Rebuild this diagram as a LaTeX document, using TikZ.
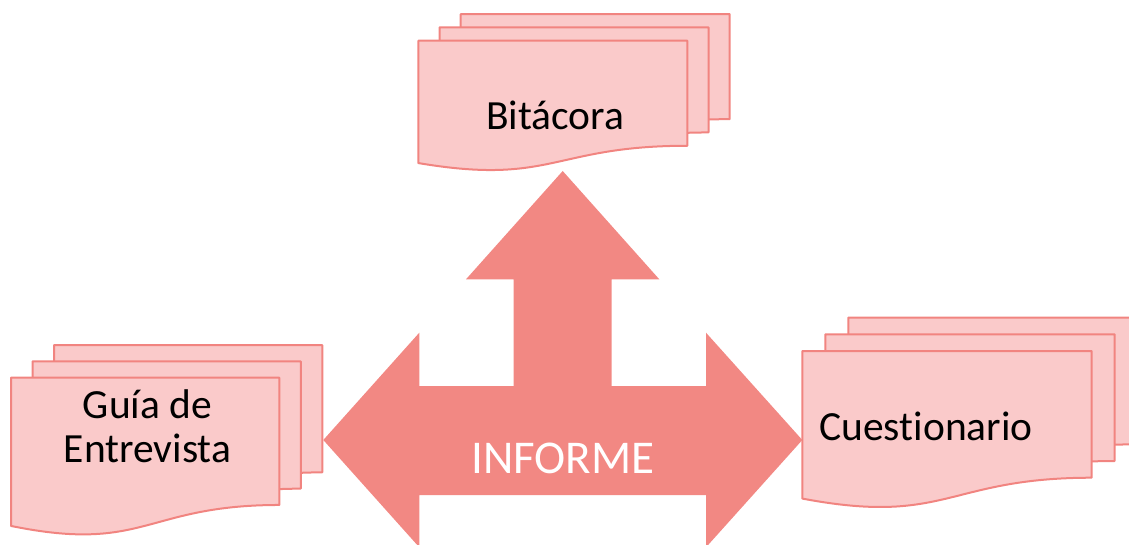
\documentclass[tikz,border=0pt]{standalone}
\usepackage{fontspec}
\setmainfont{Carlito}[Ligatures=NoCommon]

\definecolor{sheetfill}{RGB}{250,202,202}
\definecolor{sheetline}{RGB}{241,132,128}
\definecolor{arrowfill}{RGB}{242,136,131}

% one page of a document stack, wavy lower edge
\newcommand{\docsheet}[4]{%
\filldraw[sheet] ({#1},{#2}) -- ({#1+#3},{#2}) -- ({#1+#3},{#2+0.802*#4})
  .. controls ({#1+0.5*#3},{#2+0.802*#4}) and ({#1+0.5*#3},{#2+1.1075*#4}) .. ({#1},{#2+0.934*#4}) -- cycle;}

\tikzset{
  sheet/.style={fill=sheetfill,draw=sheetline,line width=2pt,line join=round},
  doclabel/.style={font=\fontsize{41.5}{44.7}\selectfont,anchor=base,inner sep=0pt,align=center}
}

\begin{document}
\begin{tikzpicture}[x=1pt,y=-1pt]
\useasboundingbox (0,0) rectangle (1129,545);

% the three stacks
\foreach \k in {2,1,0} \docsheet{418.3+\k*21.2}{40.7-\k*13.3}{269}{131};
\foreach \k in {2,1,0} \docsheet{11+\k*21.5}{377.7-\k*16.3}{268.3}{158.7};
\foreach \k in {2,1,0} \docsheet{802.3+\k*23}{351-\k*16.7}{289.4}{158};

% the three-way arrow
\fill[arrowfill] (562.7,171) -- (659.3,279.3) -- (611.7,279.3) -- (611.7,386)
  -- (706,386) -- (706,332.7) -- (802.3,440) -- (706,547.3) -- (706,495)
  -- (419.3,495) -- (419.3,547.3) -- (323.3,440) -- (419.3,332.7) -- (419.3,386)
  -- (513.7,386) -- (513.7,279.3) -- (466,279.3) -- cycle;

\node[doclabel] (bitacora) at (555,129.3) {Bitácora};
\node[doclabel] (guia) at (147.5,462.7) {Guía de\\Entrevista};
\node[doclabel] (cuestionario) at (926,440) {Cuestionario};
\node[doclabel,font=\fontsize{47}{50}\selectfont,text=white] (informe) at (563,473.3) {INFORME};
\end{tikzpicture}
\end{document}
